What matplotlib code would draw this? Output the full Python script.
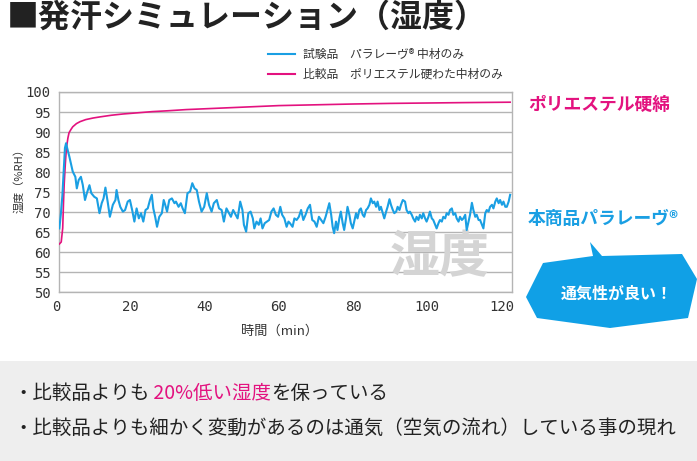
import matplotlib
matplotlib.use('Agg')
import matplotlib.pyplot as plt
from matplotlib.lines import Line2D
from matplotlib.patches import Polygon, Rectangle
from matplotlib.transforms import ScaledTranslation

plt.rcParams['font.family'] = ['Noto Sans CJK JP', 'DejaVu Sans']

BLUE = '#1a9fe3'
PINK = '#e3127f'
DARK = '#333333'

# 試験品 パラレーヴ (humidity, %RH)
time_para = [0.1, 0.5, 0.9, 1.3, 1.6, 1.9, 2.2, 2.8, 3.7, 4.4, 4.8, 5.3, 5.9, 6.4, 7.0, 7.5,
             8.2, 8.7, 9.5, 10.2, 10.9, 11.5, 12.0, 12.5, 13.1, 13.7, 14.5, 15.2, 15.5, 16.0,
             16.5, 17.2, 17.8, 18.5, 19.1, 19.7, 20.3, 20.9, 21.5, 22.1, 22.7, 23.3, 23.9,
             24.5, 25.0, 25.4, 25.9, 26.4, 27.0, 27.7, 28.2, 28.6, 29.1, 29.7, 30.4, 31.1,
             31.5, 32.2, 32.8, 33.3, 33.9, 34.6, 35.3, 35.9, 36.5, 37.1, 37.7, 38.4, 39.1,
             39.8, 40.4, 41.1, 41.7, 42.5, 43.1, 43.8, 44.4, 45.1, 45.8, 46.3, 46.9, 47.6,
             48.1, 48.8, 49.4, 49.8, 50.4, 51.0, 51.6, 52.2, 52.6, 53.2, 53.8, 54.3, 54.8,
             55.4, 56.0, 56.6, 57.2, 57.8, 58.4, 59.0, 59.6, 60.1, 60.7,
             61.3, 61.8, 62.2, 62.9, 63.4, 64.0, 64.6, 65.2, 65.8, 66.4, 67.0, 67.6, 68.2,
             68.8, 69.4, 70.0, 70.6, 71.2, 71.8, 72.4, 72.8, 73.3, 73.7, 74.1, 74.6, 75.0,
             75.5, 75.9, 76.4, 76.8, 77.3, 77.7, 78.2, 78.6, 79.1, 79.5, 80.0, 80.4, 80.9,
             81.3, 81.8, 82.2, 82.7, 83.1, 83.6, 84.0, 84.5, 84.9, 85.4, 85.8, 86.3, 86.7,
             87.2, 87.6, 88.1, 88.5, 89.0, 89.4, 89.9, 90.3, 90.8, 91.2, 91.7, 92.1,
             92.6, 93.2, 93.6, 94.1, 94.5, 95.0, 95.4, 95.9, 96.3, 96.8, 97.2, 97.7, 98.1,
             98.6, 99.0, 99.5, 99.9, 100.4, 100.8, 101.3, 101.7, 102.2, 102.6, 103.1, 103.5,
             104.0, 104.4, 104.9, 105.3, 105.8, 106.2, 106.7, 107.1, 107.6, 108.0, 108.5,
             108.9, 109.4, 109.8, 110.3, 110.7, 111.2, 111.6, 112.1, 112.5, 113.0, 113.4,
             113.9, 114.3, 114.8, 115.2, 115.7, 116.1, 116.6, 117.0, 117.5, 117.9, 118.4,
             118.8, 119.3, 119.7, 120.2, 120.6, 121.1, 121.5]
rh_para = [65.9, 69.5, 74.0, 81.0, 86.0, 87.2, 86.0, 83.8, 80.1, 78.8, 75.9, 78.0, 78.8, 76.8, 73.0, 74.7,
           76.7, 74.7, 73.8, 73.4, 69.7, 72.2, 73.4, 76.1, 72.6, 68.8, 71.8, 73.0, 75.5, 73.0,
           71.3, 70.1, 70.5, 72.6, 73.0, 70.5, 67.6, 70.9, 68.4, 69.7, 67.6, 70.5, 70.9,
           73.0, 74.3, 70.9, 68.8, 66.3, 68.8, 69.7, 73.0, 71.8, 70.1, 73.0, 73.4, 72.2,
           72.6, 71.3, 72.2, 70.9, 69.7, 74.7, 75.1, 77.2, 75.9, 75.5, 72.6, 70.1, 71.3,
           74.7, 71.8, 70.1, 72.2, 73.0, 70.9, 70.5, 67.6, 70.9, 69.7, 68.8, 70.5, 69.3,
           68.4, 72.6, 70.5, 66.8, 65.1, 69.7, 70.1, 68.4, 65.9, 67.6, 66.8, 68.4, 65.9,
           67.2, 67.6, 68.0, 70.1, 70.9, 69.3, 68.8, 71.3, 69.3, 68.4,
           66.3, 67.6, 67.2, 66.3, 68.4, 68.0, 68.8, 70.5, 68.0, 69.3, 70.9, 71.8, 68.0,
           67.6, 66.3, 68.8, 68.0, 67.2, 68.8, 70.9, 72.2, 69.3, 66.3, 64.7, 67.6, 65.5,
           68.4, 70.1, 67.2, 65.5, 68.4, 71.3, 69.3, 67.2, 65.9, 67.6, 69.7, 68.4, 70.5,
           70.9, 69.3, 68.8, 70.5, 70.9, 71.8, 73.4, 72.2, 72.6, 71.3, 72.6, 70.5, 71.3,
           69.7, 68.4, 70.1, 71.3, 73.2, 71.8, 70.5, 69.7, 70.1, 71.3, 70.5, 71.8,
           73.0, 72.6, 70.5, 69.7, 70.1, 69.3, 68.4, 67.6, 68.8, 68.0, 69.3, 68.4, 69.7,
           68.4, 67.6, 68.8, 70.1, 68.4, 68.0, 66.8, 65.9, 67.2, 68.0, 67.6, 68.8,
           68.4, 69.7, 69.3, 70.5, 70.9, 69.3, 69.7, 68.4, 67.6, 68.8, 68.0,
           68.4, 69.3, 65.5, 67.6, 69.3, 72.3, 70.5, 68.8, 69.3, 68.0, 68.0,
           66.8, 65.9, 69.7, 70.5, 70.1, 71.3, 71.8, 70.9, 72.6, 73.4, 72.2,
           73.0, 71.8, 72.6, 71.3, 71.3, 72.6, 74.3]

# 比較品 ポリエステル硬わた
time_poly = [0.1, 0.6, 1.0, 1.2, 1.4, 1.7, 2.0, 2.4, 2.7, 3.2, 3.7, 4.7, 5.7, 7.2, 9.2, 11.2,
             14.2, 17.2, 21.2, 25.2, 29.2, 34.2, 39.2, 49.2, 59.2, 69.2, 79.2, 89.2, 99.2,
             109.2, 121.5]
rh_poly = [62.0, 62.5, 66.0, 72.0, 77.0, 82.0, 86.0, 88.5, 89.8, 90.6, 91.3, 92.1, 92.6, 93.1,
           93.5, 93.8, 94.2, 94.5, 94.8, 95.1, 95.3, 95.6, 95.8, 96.2, 96.6, 96.8, 97.0,
           97.15, 97.25, 97.35, 97.45]

x_ticks = [0, 20, 40, 60, 80, 100, 120]
y_ticks = [50, 55, 60, 65, 70, 75, 80, 85, 90, 95, 100]
series_labels = ['試験品　パラレーヴ® 中材のみ', '比較品　ポリエステル硬わた中材のみ']
note1 = ['・比較品よりも', ' 20%低い湿度', 'を保っている']
note2 = '・比較品よりも細かく変動があるのは通気（空気の流れ）している事の現れ'

W, H = 697, 461
fig = plt.figure(figsize=(W / 100, H / 100), dpi=100)


def fx(px):
    return px / W


def fy(py):
    return 1 - py / H


# grey note box at the bottom
fig.patches.append(Rectangle((0, 0), 1, fy(361), transform=fig.transFigure,
                             facecolor='#eeeeee', edgecolor='none', zorder=0))

fig.text(fx(7), fy(27), '■発汗シミュレーション（湿度）', fontsize=23, fontweight='bold',
         color='#222222', va='baseline', ha='left')

ax = fig.add_axes([fx(59), fy(292), fx(512) - fx(59), fy(92) - fy(292)])
ax.text(0.84, 0.17, '湿度', transform=ax.transAxes, fontsize=36, fontweight='bold',
        color='#d4d4d4', ha='center', va='center', zorder=1)
ax.plot(time_poly, rh_poly, color=PINK, lw=1.2, zorder=3)
ax.plot(time_para, rh_para, color=BLUE, lw=1.5, zorder=4)

ax.set_xlim(0, 122)
ax.set_ylim(50, 100)
ax.set_xticks(x_ticks)
ax.set_yticks(y_ticks)
ax.grid(axis='y', color='#b4b4b4', lw=1.0)
ax.set_axisbelow(True)
for sp in ax.spines.values():
    sp.set_color('#b4b4b4')
    sp.set_linewidth(1.0)
ax.tick_params(length=0, pad=6, labelsize=10, labelcolor=DARK)
for lab in ax.get_xticklabels() + ax.get_yticklabels():
    lab.set_fontfamily('DejaVu Sans Mono')
for lab in ax.get_xticklabels():
    lab.set_transform(lab.get_transform() + ScaledTranslation(-0.03, 0, fig.dpi_scale_trans))

fig.text(fx(280), fy(331), '時間（min）', fontsize=9.5, color=DARK, ha='center', va='center')
fig.text(fx(19), fy(178), '湿度（%RH）', fontsize=8, color=DARK, ha='center', va='center',
         rotation=90)

# legend
for i, (lab, col) in enumerate(zip(series_labels, [BLUE, PINK])):
    yy = fy(54 + 20 * i)
    fig.add_artist(Line2D([fx(268), fx(295)], [yy, yy], color=col, lw=1.5,
                          transform=fig.transFigure))
    fig.text(fx(303), yy, lab, fontsize=8.5, color=DARK, ha='left', va='center')

# labels at the right
fig.text(fx(528), fy(105), 'ポリエステル硬綿', fontsize=12.8, fontweight='bold', color=PINK,
         ha='left', va='center')
fig.text(fx(528), fy(219), '本商品パラレーヴ®', fontsize=12.8, fontweight='bold', color=BLUE,
         ha='left', va='center')
bubble = [(590, 242), (602, 256), (682, 254), (697, 279), (688, 318), (610, 328),
          (537, 318), (526, 297), (543, 263), (593, 256)]
fig.patches.append(Polygon([(fx(x), fy(y)) for x, y in bubble], closed=True,
                           transform=fig.transFigure, facecolor='#10a0e6', edgecolor='none'))
fig.text(fx(617), fy(294), '通気性が良い！', fontsize=11.5, fontweight='bold', color='white',
         ha='center', va='center')

# notes, first line in three colour runs placed one after another
renderer = fig.canvas.get_renderer()
x0 = fx(13)
for part, col in zip(note1, ['#222222', PINK, '#222222']):
    t = fig.text(x0, fy(399), part, fontsize=14, color=col, ha='left', va='baseline')
    x0 = fig.transFigure.inverted().transform(t.get_window_extent(renderer))[1][0]
fig.text(fx(13), fy(434), note2, fontsize=14, color='#222222', ha='left', va='baseline')

assert len(time_para) == len(rh_para)
fig.savefig('out.png', dpi=100)
